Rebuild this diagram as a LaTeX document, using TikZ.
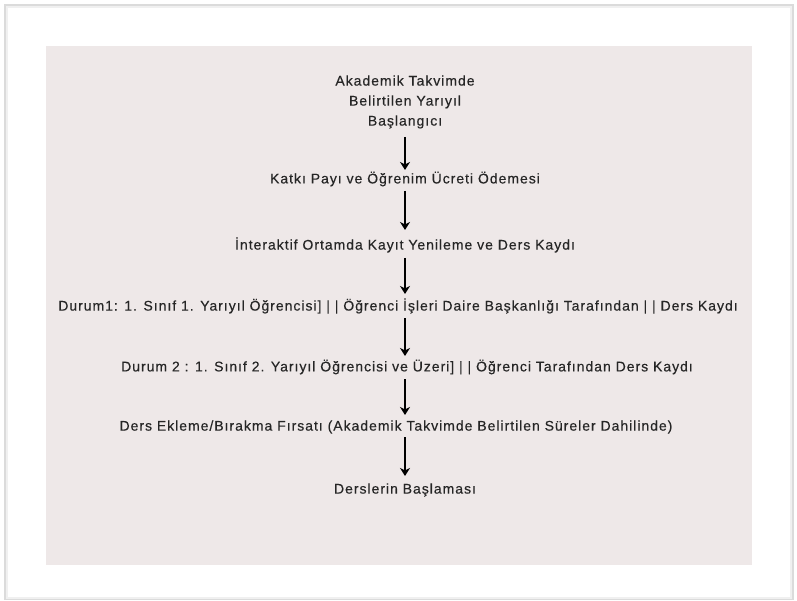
\documentclass[tikz,border=0pt]{standalone}
\usepackage{fontspec}
\setmainfont{Liberation Sans}[LetterSpace=7,FakeBold=0.35]
\usetikzlibrary{arrows.meta}
\definecolor{panel}{RGB}{238,232,232}
\definecolor{txt}{RGB}{38,38,38}
\tikzset{
  lbl/.style={font=\fontsize{14}{20}\selectfont, text=txt, align=center, inner sep=0pt},
  flow/.style={line width=2.8pt, -{Stealth[length=8pt,width=10pt,inset=2.5pt]}}
}
\begin{document}
\begin{tikzpicture}[x=1pt,y=-1pt]
\useasboundingbox (0,0) rectangle (797,601);
\fill[white] (0,0) rectangle (797,601);
\fill[black!14] (4,4) rectangle (794,600);
\fill[black!6] (6,6) rectangle (792,599);
\fill[white] (8,8) rectangle (790,597);
\fill[panel] (46,46) rectangle (752,565);
\node[lbl] (a) at (405,102) {Akademik Takvimde\\Belirtilen Yarıyıl\\Başlangıcı};
\node[lbl] (b) at (405,179) {Katkı Payı ve Öğrenim Ücreti Ödemesi};
\node[lbl] (c) at (405,245) {İnteraktif Ortamda Kayıt Yenileme ve Ders Kaydı};
\node[lbl] (d) at (398,306) {Durum1: 1. Sınıf 1. Yarıyıl Öğrencisi] | | Öğrenci İşleri Daire Başkanlığı Tarafından | | Ders Kaydı};
\node[lbl] (e) at (407,367) {Durum 2 : 1. Sınıf 2. Yarıyıl Öğrencisi ve Üzeri] | | Öğrenci Tarafından Ders Kaydı};
\node[lbl] (f) at (396,427) {Ders Ekleme/Bırakma Fırsatı (Akademik Takvimde Belirtilen Süreler Dahilinde)};
\node[lbl] (g) at (405,490) {Derslerin Başlaması};
\coordinate (a1) at (405,137); \coordinate (a2) at (405,170);
\coordinate (b1) at (405,191); \coordinate (b2) at (405,230);
\coordinate (c1) at (405,258); \coordinate (c2) at (405,294);
\coordinate (d1) at (405,318); \coordinate (d2) at (405,356);
\coordinate (e1) at (405,379); \coordinate (e2) at (405,415);
\coordinate (f1) at (405,437); \coordinate (f2) at (405,476);
\draw[flow] (a1) -- (a2);
\draw[flow] (b1) -- (b2);
\draw[flow] (c1) -- (c2);
\draw[flow] (d1) -- (d2);
\draw[flow] (e1) -- (e2);
\draw[flow] (f1) -- (f2);
\end{tikzpicture}
\end{document}
